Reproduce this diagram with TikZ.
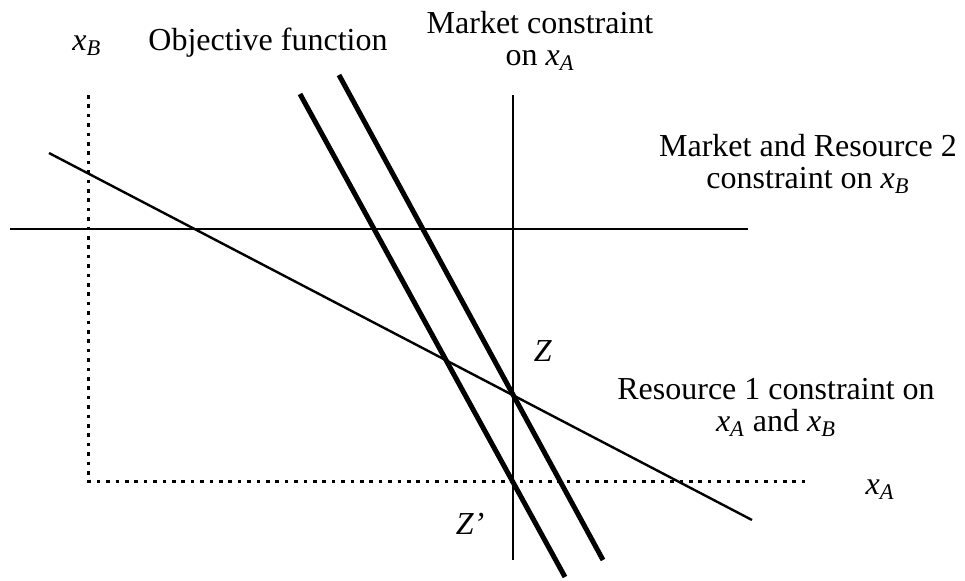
\documentclass[tikz,border=0pt]{standalone}
\usepackage{fontspec}
\setmainfont{Liberation Serif}
\usetikzlibrary{positioning}
\newcommand{\xv}[1]{$\mathit{x}_{\mathit{#1}}$}
\tikzset{
  axisln/.style={line width=1.5pt,dash pattern=on 1.8pt off 2.9pt},
  cstrln/.style={line width=1.2pt},
  objln/.style={line width=2.5pt},
  lbl/.style={font=\fontsize{16}{16}\selectfont,align=center,inner sep=0pt}
}

\begin{document}
\begin{tikzpicture}[x=0.5pt,y=-0.5pt]
  \useasboundingbox (0,0) rectangle (965,580);

  % axes
  \coordinate (ytop) at (88,95);
  \coordinate (orig) at (88,481);
  \coordinate (xend) at (807,481);
  \draw[axisln] (ytop) -- (orig) -- (xend);

  % market constraints
  \coordinate (mkta) at (513,95);
  \coordinate (mktb) at (513,560);
  \coordinate (mktl) at (10,229);
  \coordinate (mktr) at (748,229);
  \draw[cstrln] (mkta) -- (mktb);
  \draw[cstrln] (mktl) -- (mktr);

  % resource 1 constraint
  \coordinate (resa) at (49,153);
  \coordinate (resb) at (752,520);
  \draw[cstrln] (resa) -- (resb);

  % objective function lines
  \coordinate (obja) at (300,94);
  \coordinate (objb) at (565,577);
  \coordinate (objc) at (339,75);
  \coordinate (objd) at (603,560);
  \draw[objln] (obja) -- (objb);
  \draw[objln] (objc) -- (objd);

  % labels
  \node[lbl, anchor=base west] (xb) at (72,50) {\xv{B}};
  \node[lbl, anchor=base] (obj) at (268,50) {Objective function};
  \node[lbl, anchor=north] (mkt) at (540,11) {Market constraint\\on \xv{A}};
  \node[lbl, anchor=north] (mkr) at (808,134) {Market and Resource 2\\constraint on \xv{B}};
  \node[lbl, anchor=north] (res) at (776,378) {Resource 1 constraint on\\\xv{A} and \xv{B}};
  \node[lbl] (z) at (543,351) {\textit{Z}};
  \node[lbl] (zp) at (470,524) {\textit{Z’}};
  \node[lbl] (xa) at (880,490) {\xv{A}};
\end{tikzpicture}
\end{document}
